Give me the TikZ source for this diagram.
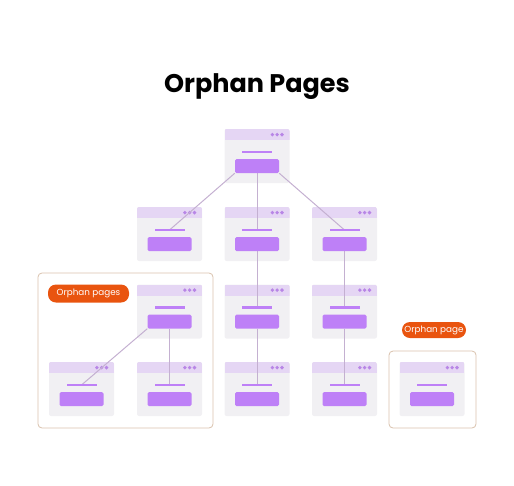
\documentclass[tikz,border=0pt]{standalone}
\usepackage{fontspec}
\setmainfont{Poppins}
\definecolor{pagebg}{HTML}{F1F0F3}
\definecolor{headbg}{HTML}{E5D6F4}
\definecolor{dotc}{HTML}{B886E6}
\definecolor{purp}{HTML}{BE80F7}
\definecolor{edgec}{HTML}{C4B0D1}
\definecolor{boxc}{HTML}{D9C1AC}
\definecolor{pillc}{HTML}{E9540F}
\pgfdeclarelayer{back}
\pgfsetlayers{back,main}
\begin{document}
\begin{tikzpicture}[x=1pt,y=-1pt,
    page/.style={rectangle,fill=pagebg,rounded corners=2pt,minimum width=65pt,minimum height=54pt,inner sep=0pt},
    head/.style={rectangle,fill=headbg,minimum width=65pt,minimum height=11pt,inner sep=0pt},
    bar/.style={rectangle,fill=purp,minimum width=30pt,minimum height=2.6pt,inner sep=0pt},
    btn/.style={rectangle,fill=purp,rounded corners=1.5pt,minimum width=44pt,minimum height=14pt,inner sep=0pt},
    link/.style={draw=edgec,line width=1pt},
    group/.style={draw=boxc,line width=0.8pt,rounded corners=4pt},
    pill/.style={rectangle,fill=pillc,rounded corners=8pt,text=white,font=\fontsize{8.8}{10}\selectfont,inner sep=0pt}]
  \useasboundingbox (0,0) rectangle (514,485);
  \node[font=\fontsize{25.5}{30}\selectfont\bfseries,anchor=base] (title) at (257,92) {Orphan Pages};
  % pages
  \foreach \n/\x/\y in {top/257/129,a/169.5/207,b/257/207,c/344.5/207,
      d/169.5/284.5,e/257/284.5,f/344.5/284.5,
      g/81.5/362,h/169.5/362,i/257/362,j/344.5/362,k/432/362} {
    \begin{pgfonlayer}{back}
      \node[page] (\n) at (\x,\y+27) {};
      \begin{scope}
        \clip[rounded corners=2pt] (\x-32.5,\y) rectangle (\x+32.5,\y+54);
        \node[head] (\n-head) at (\x,\y+5.5) {};
      \end{scope}
      \foreach \d in {7.5,12.3,17.1}
        \fill[dotc] (\x+32.5-\d,\y+5.6) circle (1.9pt);
    \end{pgfonlayer}
    \node[bar] (\n-bar) at (\x,\y+23) {};
    \node[btn] (\n-btn) at (\x,\y+37) {};
  }
  % links
  \begin{pgfonlayer}{back}
    \draw[link] (top-btn.south west) to (a-bar.center);
    \draw[link] (top-btn.south) to (b-bar.center);
    \draw[link] (top-btn.south east) to (c-bar.center);
    \draw[link] (b-btn.south) to (e-bar.center);
    \draw[link] (e-btn.south) to (i-bar.center);
    \draw[link] (c-btn.south) to (f-bar.center);
    \draw[link] (f-btn.south) to (j-bar.center);
    \draw[link] (d-btn.south west) to (g-bar.center);
    \draw[link] (d-btn.south) to (h-bar.center);
  \end{pgfonlayer}
  % orphan groups
  \draw[group] (38,273) rectangle (213,428);
  \draw[group] (389,351) rectangle (476,428);
  \node[pill,minimum width=81pt,minimum height=18pt] (lbl1) at (88.5,293.5) {Orphan pages};
  \node[pill,minimum width=64pt,minimum height=16pt] (lbl2) at (434,330) {Orphan page};
\end{tikzpicture}
\end{document}
